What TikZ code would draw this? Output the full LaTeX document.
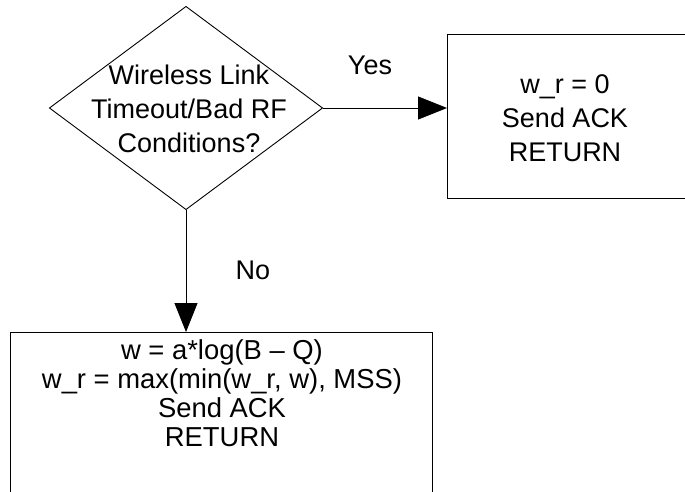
\documentclass[tikz,border=0pt]{standalone}
\usepackage{fontspec}
\setmainfont{Liberation Sans}
\usetikzlibrary{shapes.geometric,arrows.meta}

\tikzset{
  outline/.style={draw=black, line width=0.9pt, outer sep=0pt, inner sep=0pt},
  decision/.style={outline, diamond},
  procbox/.style={outline, rectangle},
  bigtext/.style={align=center, inner sep=0pt, font=\fontsize{27}{34}\selectfont},
  tighttext/.style={align=center, inner sep=0pt, font=\fontsize{27.4}{29}\selectfont},
  flow/.style={draw=black, line width=0.9pt, -{Triangle[length=29pt, width=23pt]}},
}

\begin{document}
\begin{tikzpicture}[x=1pt, y=-1pt]
  \useasboundingbox (0,0) rectangle (685,492);
  \clip (0,0) rectangle (685,492);

  % decision
  \node[decision, minimum width=273pt, minimum height=203pt] (q) at (186,108) {};
  \node[bigtext] (qtext) at (189,109) {Wireless Link\\Timeout/Bad RF\\Conditions?};

  % "yes" branch box (runs past the right margin)
  \node[procbox, minimum width=300pt, minimum height=164pt, anchor=north west] (yes) at (447,34) {};
  \node[bigtext] (yestext) at (565,118) {w\_r = 0\\Send ACK\\RETURN};

  % "no" branch box (runs past the bottom margin)
  \node[procbox, minimum width=422pt, minimum height=220pt, anchor=north west] (no) at (10.5,332) {};
  \node[tighttext] (notext) at (222,393) {w = a*log(B \textendash{} Q)\\w\_r = max(min(w\_r, w), MSS)\\Send ACK\\RETURN};

  % connectors
  \draw[flow] (q.east) -- (q.east -| yes.west);
  \draw[flow] (q.south) -- (q.south |- no.north);

  % branch labels
  \node[bigtext] (yeslbl) at (370,65) {Yes};
  \node[bigtext] (nolbl) at (253,270) {No};
\end{tikzpicture}
\end{document}
